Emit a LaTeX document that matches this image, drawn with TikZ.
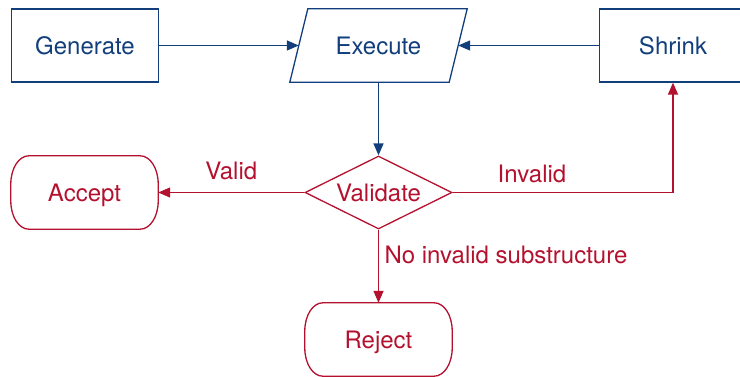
\documentclass[tikz,border=0pt]{standalone}
\usepackage{fontspec}
\setmainfont{TeX Gyre Heros}
\usetikzlibrary{arrows.meta,shapes.geometric}
\definecolor{navy}{HTML}{123F7C}
\definecolor{crim}{HTML}{B3112E}
\tikzset{
  every node/.style={font=\fontsize{24}{28}\selectfont},
  bluebox/.style={draw=navy, text=navy, line width=1.3pt, minimum width=147pt, minimum height=73pt, inner sep=0pt},
  ghost/.style={text=#1, minimum width=147pt, minimum height=73pt, inner sep=0pt},
  bluearrow/.style={draw=navy, line width=1.4pt, -{Triangle[length=12pt,width=10pt]}},
  redarrow/.style={draw=crim, line width=1.4pt, -{Triangle[length=12pt,width=10pt]}},
  redline/.style={draw=crim, line width=1.3pt},
  lbl/.style={text=crim},
}
\newcommand\stadiumdraw[1]{%
  \draw[redline] ([xshift=18pt]#1.north west) -- ([xshift=-18pt]#1.north east)
    arc[start angle=90, end angle=0, x radius=18pt, y radius=28pt]
    -- ([yshift=28pt]#1.south east)
    arc[start angle=0, end angle=-90, x radius=18pt, y radius=28pt]
    -- ([xshift=18pt]#1.south west)
    arc[start angle=270, end angle=180, x radius=18pt, y radius=28pt]
    -- ([yshift=-28pt]#1.north west)
    arc[start angle=180, end angle=90, x radius=18pt, y radius=28pt] -- cycle;}
\begin{document}
\begin{tikzpicture}[x=1pt,y=-1pt]
\clip (0,0) rectangle (740,377);
\node[bluebox] (gen) at (85,45.5) {Generate};
\node[ghost=navy, minimum width=159pt] (exe) at (378.5,45.5) {Execute};
\draw[draw=navy, line width=1.3pt] ([xshift=9pt]exe.north west) -- ([xshift=9pt]exe.north east)
  -- ([xshift=-9pt]exe.south east) -- ([xshift=-9pt]exe.south west) -- cycle;
\node[bluebox] (shr) at (673,45.5) {Shrink};
\node[diamond, draw=crim, text=crim, line width=1.3pt, aspect=2, inner sep=0pt,
      minimum width=147pt, minimum height=73pt] (val) at (378.5,192.5) {Validate};
\node[ghost=crim, text depth=0pt] (acc) at (84.5,192.5) {Accept};
\stadiumdraw{acc}
\node[ghost=crim, text depth=0pt] (rej) at (378.5,339.5) {Reject};
\stadiumdraw{rej}
\draw[bluearrow] (gen.east) -- (exe.west);
\draw[bluearrow] (shr.west) -- (exe.east);
\draw[bluearrow] (exe.south) -- (val.north);
\draw[redarrow] (val.west) -- node[lbl, above=9pt, pos=0.5] {Valid} (acc.east);
\draw[redarrow] (val.east) -| node[lbl, above=6pt, pos=0.18] {Invalid} (shr.south);
\draw[redarrow] (val.south) -- node[lbl, right=2pt, pos=0.35] {No invalid substructure} (rej.north);
\end{tikzpicture}
\end{document}
